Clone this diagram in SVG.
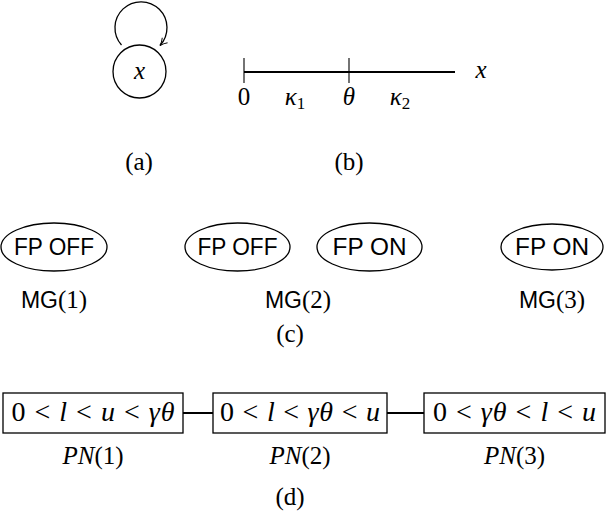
<svg xmlns="http://www.w3.org/2000/svg" width="608" height="519" viewBox="0 0 608 519">
<defs>
<style>
.m{font-family:"Liberation Serif","DejaVu Serif",serif;font-size:25px;fill:#000}
.i{font-style:italic}
.b{font-size:28px}
.s{font-family:"Liberation Sans","DejaVu Sans",sans-serif;font-size:23px;fill:#000}
.sh{fill:none;stroke:#000;stroke-width:1.3}
.ln{fill:none;stroke:#000}
</style>
<marker id="ah" viewBox="0 0 10 10" refX="9" refY="5" markerWidth="9" markerHeight="9" markerUnits="userSpaceOnUse" orient="auto">
<path d="M1,1 Q5,4 9,5 Q5,6 1,9" fill="none" stroke="#000" stroke-width="1.1"/>
</marker>
</defs>
<rect width="608" height="519" fill="#fff"/>
<g id="connectors">
<path class="ln" stroke-width="1.3" d="M121.5,45 A26,26 0 1 1 160,45.5" marker-end="url(#ah)"/>
<line class="ln" stroke-width="2.2" x1="244" y1="72" x2="455" y2="72"/>
<line class="ln" stroke-width="1.1" stroke="#444" x1="244" y1="58" x2="244" y2="83"/>
<line class="ln" stroke-width="1.1" stroke="#444" x1="349" y1="58" x2="349" y2="83"/>
<line class="ln" stroke-width="2" x1="183" y1="413" x2="213" y2="413"/>
<line class="ln" stroke-width="2" x1="387" y1="413" x2="424" y2="413"/>
</g>
<g id="node-x">
<circle class="sh" cx="139.5" cy="71.5" r="26.5"/>
<text class="m i" x="139.5" y="79" text-anchor="middle" font-size="27">x</text>
</g>
<g id="label-a"><text class="m" x="139" y="170" text-anchor="middle">(a)</text></g>
<g id="axis-labels">
<text class="m" x="244" y="105" text-anchor="middle" font-size="23">0</text>
<text class="m i" x="295" y="105" text-anchor="middle">κ<tspan font-style="normal" font-size="17" dy="4">1</tspan></text>
<text class="m i" x="349" y="105" text-anchor="middle">θ</text>
<text class="m i" x="400" y="105" text-anchor="middle">κ<tspan font-style="normal" font-size="17" dy="4">2</tspan></text>
<text class="m i" x="481" y="78" text-anchor="middle">x</text>
</g>
<g id="label-b"><text class="m" x="349" y="170" text-anchor="middle">(b)</text></g>
<g id="mg1-off">
<ellipse class="sh" cx="54" cy="247" rx="53" ry="24"/>
<text class="s" x="54" y="255" text-anchor="middle" textLength="80" lengthAdjust="spacingAndGlyphs">FP OFF</text>
</g>
<g id="mg2-off">
<ellipse class="sh" cx="237.5" cy="247" rx="52.5" ry="24"/>
<text class="s" x="237.5" y="255" text-anchor="middle" textLength="80" lengthAdjust="spacingAndGlyphs">FP OFF</text>
</g>
<g id="mg2-on">
<ellipse class="sh" cx="369.5" cy="247" rx="52.5" ry="24"/>
<text class="s" x="369.5" y="255" text-anchor="middle" textLength="74" lengthAdjust="spacingAndGlyphs">FP ON</text>
</g>
<g id="mg3-on">
<ellipse class="sh" cx="552" cy="247" rx="51" ry="23"/>
<text class="s" x="552" y="255" text-anchor="middle" textLength="74" lengthAdjust="spacingAndGlyphs">FP ON</text>
</g>
<g id="mg-labels">
<text x="54" y="308" text-anchor="middle"><tspan class="s">MG</tspan><tspan class="m">(1)</tspan></text>
<text x="298" y="308" text-anchor="middle"><tspan class="s">MG</tspan><tspan class="m">(2)</tspan></text>
<text x="552" y="308" text-anchor="middle"><tspan class="s">MG</tspan><tspan class="m">(3)</tspan></text>
</g>
<g id="label-c"><text class="m" x="290" y="342" text-anchor="middle">(c)</text></g>
<g id="pn1">
<rect class="sh" x="3" y="393" width="180" height="40"/>
<text class="m b" x="93" y="421" text-anchor="middle" textLength="163" lengthAdjust="spacing">0 &lt; <tspan class="i">l</tspan> &lt; <tspan class="i">u</tspan> &lt; <tspan class="i">γθ</tspan></text>
</g>
<g id="pn2">
<rect class="sh" x="213" y="393" width="174" height="40"/>
<text class="m b" x="300" y="421" text-anchor="middle" textLength="160" lengthAdjust="spacing">0 &lt; <tspan class="i">l</tspan> &lt; <tspan class="i">γθ</tspan> &lt; <tspan class="i">u</tspan></text>
</g>
<g id="pn3">
<rect class="sh" x="424" y="393" width="181" height="40"/>
<text class="m b" x="514.5" y="421" text-anchor="middle" textLength="163" lengthAdjust="spacing">0 &lt; <tspan class="i">γθ</tspan> &lt; <tspan class="i">l</tspan> &lt; <tspan class="i">u</tspan></text>
</g>
<g id="pn-labels">
<text class="m" x="93" y="464" text-anchor="middle" font-size="26"><tspan class="i">PN</tspan>(1)</text>
<text class="m" x="300" y="464" text-anchor="middle" font-size="26"><tspan class="i">PN</tspan>(2)</text>
<text class="m" x="514.5" y="464" text-anchor="middle" font-size="26"><tspan class="i">PN</tspan>(3)</text>
</g>
<g id="label-d"><text class="m" x="290" y="505" text-anchor="middle">(d)</text></g>
</svg>
